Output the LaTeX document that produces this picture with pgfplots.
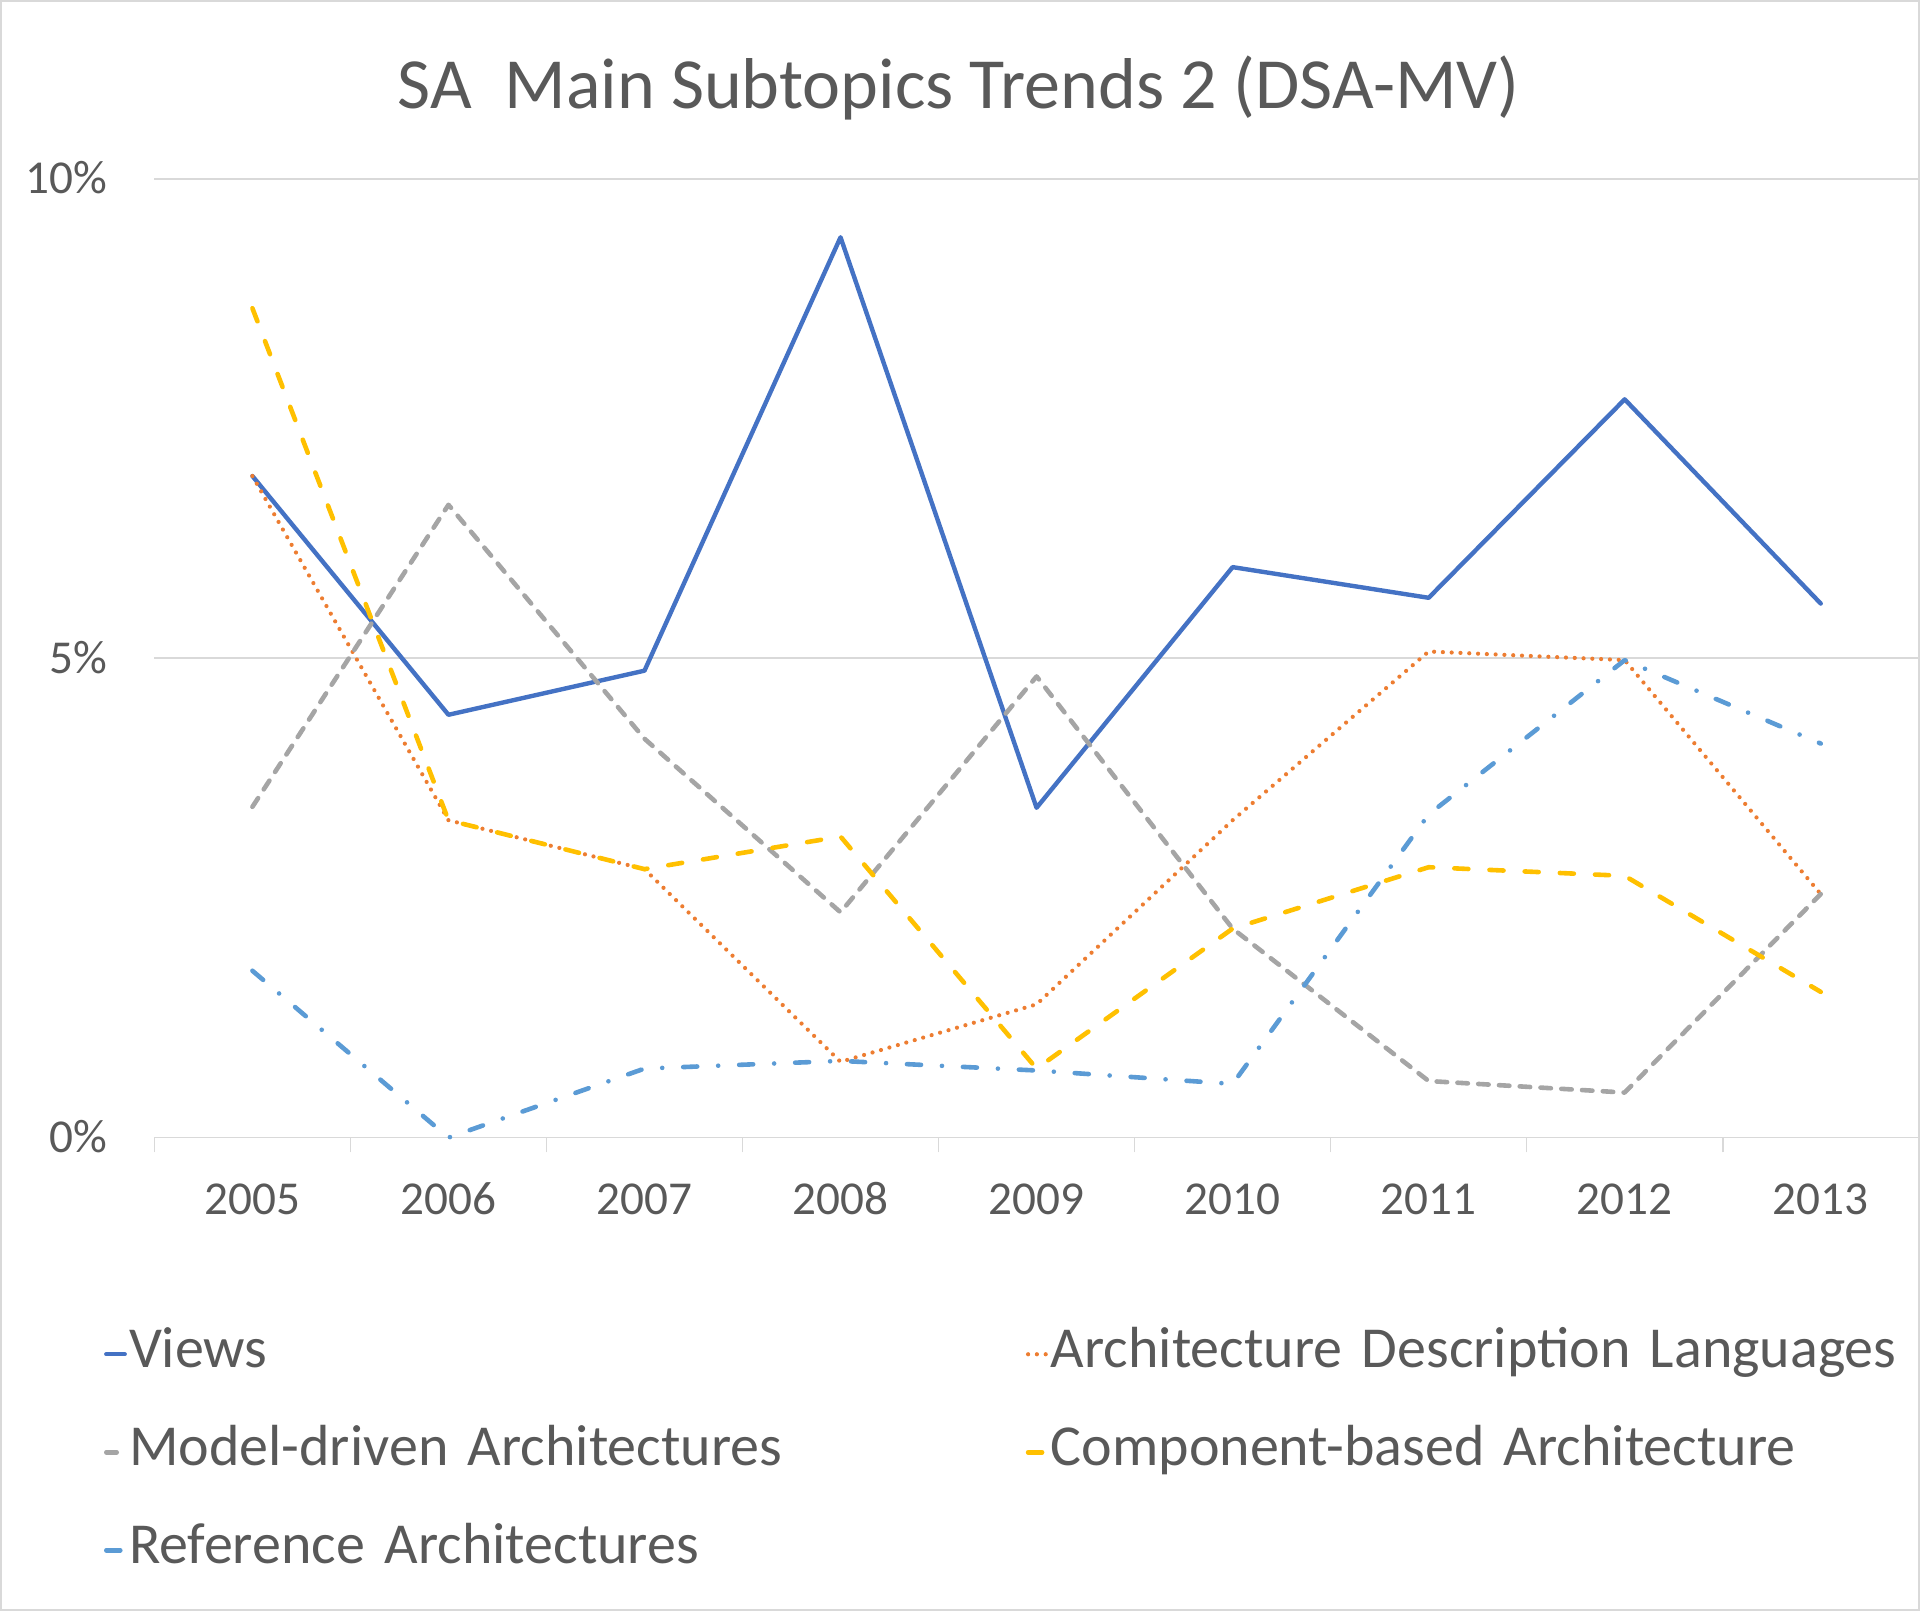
\documentclass[border=0pt]{standalone}
\usepackage{fontspec}
\setmainfont{Carlito}
\usepackage{pgfplots}
\pgfplotsset{compat=1.18}
\definecolor{txt}{HTML}{595959}
\definecolor{grd}{HTML}{D9D9D9}
\definecolor{cviews}{HTML}{4472C4}
\definecolor{cadl}{HTML}{ED7D31}
\definecolor{cmda}{HTML}{A5A5A5}
\definecolor{ccba}{HTML}{FFC000}
\definecolor{cref}{HTML}{5B9BD5}
\begin{document}
\begin{tikzpicture}
\useasboundingbox (0,0) rectangle (480pt,402.75pt);
\draw[grd, line width=0.5pt] (0.25pt,0.25pt) rectangle (479.75pt,402.5pt);
\node[text=txt, font=\fontsize{18}{21}\selectfont] at (239.7pt,380.8pt) {SA\ \ Main Subtopics Trends 2 (DSA-MV)};
\begin{axis}[
  at={(38.6pt,118.35pt)}, anchor=south west, scale only axis,
  width=441.1pt, height=239.7pt,
  xmin=-0.5, xmax=8.5, ymin=0, ymax=10,
  clip=false,
  axis line style={draw=none},
  xtick={0,1,2,3,4,5,6,7,8},
  xticklabels={2005,2006,2007,2008,2009,2010,2011,2012,2013},
  ytick={0,5,10},
  yticklabels={0\%,5\%,10\%},
  xtick pos=bottom, ytick pos=left,
  major tick length=0pt,
  tick style={grd, line width=0.4pt},
  extra x ticks={-0.5,0.5,1.5,2.5,3.5,4.5,5.5,6.5,7.5,8.5},
  extra x tick labels={},
  extra x tick style={major tick length=3.7pt, tick align=outside, grid=none},
  ymajorgrids,
  major grid style={grd, line width=0.4pt},
  xticklabel style={font=\fontsize{11.8}{14}\selectfont, text=txt, anchor=base, yshift=-19.25pt},
  yticklabel style={font=\fontsize{11.8}{14}\selectfont, text=txt, anchor=base east, inner sep=0pt, xshift=-11.6pt, yshift=-3.7pt},
  every axis plot/.append style={line width=1.15pt, line join=round, line cap=round},
  legend columns=2,
  legend cell align=left,
  legend image code/.code={\draw[#1] (0.6pt,3.3pt) -- (5.2pt,3.3pt);},
  legend style={at={(-0.02857,-0.198)}, anchor=north west, draw=none, fill=none,
    inner sep=0pt, outer sep=0pt, font=\fontsize{14.5}{17}\selectfont, text=txt,
    row sep=11.5pt, column sep=0pt,
    /tikz/every odd column/.append style={column sep=0.5pt},
    nodes={inner sep=0pt, text=txt, text width=224.2pt, align=left, text height=10pt, text depth=3pt, anchor=base west}},
]
\addplot[cviews, line width=1.1pt] coordinates {(0,6.90)(1,4.41)(2,4.87)(3,9.39)(4,3.44)(5,5.95)(6,5.63)(7,7.70)(8,5.57)};
\addlegendentry{Views}
\addplot[cadl, line width=1.05pt, dash pattern=on 0pt off 2.2pt] coordinates {(0,6.90)(1,3.31)(2,2.80)(3,0.79)(4,1.39)(5,3.31)(6,5.07)(7,4.98)(8,2.54)};
\addlegendentry{Architecture Description Languages}
\addplot[cmda, dash pattern=on 2.6pt off 2.6pt] coordinates {(0,3.45)(1,6.60)(2,4.16)(3,2.35)(4,4.81)(5,2.18)(6,0.59)(7,0.47)(8,2.54)};
\addlegendentry{Model-driven Architectures}
\addplot[ccba, dash pattern=on 3.5pt off 5.3pt] coordinates {(0,8.65)(1,3.31)(2,2.80)(3,3.14)(4,0.72)(5,2.18)(6,2.82)(7,2.73)(8,1.52)};
\addlegendentry{Component-based Architecture}
\addplot[cref, dash pattern=on 3.5pt off 5.25pt on 0pt off 5.25pt] coordinates {(0,1.74)(1,0)(2,0.72)(3,0.80)(4,0.70)(5,0.56)(6,3.37)(7,4.98)(8,4.11)};
\addlegendentry{Reference Architectures}
\end{axis}
\end{tikzpicture}
\end{document}
